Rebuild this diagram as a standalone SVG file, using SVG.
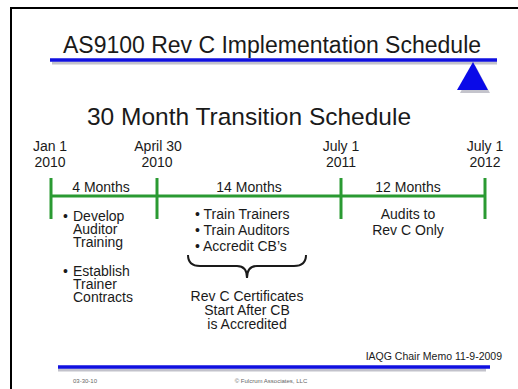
<svg xmlns="http://www.w3.org/2000/svg" width="518" height="389" viewBox="0 0 518 389">
<defs>
<style>
text{font-family:"Liberation Sans",Arial,sans-serif;fill:#1a1a1a}
.lbl{font-size:14px}
.mid{text-anchor:middle}
.tl{stroke:#2a9a32;stroke-width:3;fill:none}
.blue{stroke:#1010e0;stroke-width:3.5;fill:none}
.shadow{stroke:#9a9aa8;stroke-width:3;fill:none;opacity:0.6}
.small{font-size:6px;fill:#666}
</style>
</defs>
<rect x="0" y="0" width="518" height="389" fill="#fff"/>
<rect x="11" y="8" width="520" height="400" fill="none" stroke="#000" stroke-width="2"/>
<g id="header">
<text x="272" y="53" class="mid" font-size="23">AS9100 Rev C Implementation Schedule</text>
<line class="shadow" x1="52" y1="63" x2="497" y2="63"/>
<line class="blue" x1="50" y1="60" x2="497" y2="60"/>
<polygon points="475,65 490,93 460,93" fill="#8a8a9a" opacity="0.5"/>
<polygon points="473,62 488,90 457,90" fill="#0a0ae8"/>
<text x="249" y="125" class="mid" font-size="24.5">30 Month Transition Schedule</text>
</g>
<g id="connectors">
<line class="tl" x1="51" y1="196" x2="485" y2="196"/>
<line class="tl" x1="51" y1="178" x2="51" y2="219"/>
<line class="tl" x1="157" y1="178" x2="157" y2="219"/>
<line class="tl" x1="341" y1="178" x2="341" y2="219"/>
<line class="tl" x1="485" y1="178" x2="485" y2="219"/>
<path d="M188,255 Q188,266 200,266 L237,266 Q247,266 247,278 Q247,266 257,266 L294,266 Q306,266 306,255" fill="none" stroke="#1a1a1a" stroke-width="2"/>
</g>
<g id="date-jan2010">
<text class="lbl mid"><tspan x="50" y="151">Jan 1</tspan><tspan x="50" y="167">2010</tspan></text>
</g>
<g id="date-apr2010">
<text class="lbl mid"><tspan x="158" y="151">April 30</tspan><tspan x="157" y="167">2010</tspan></text>
</g>
<g id="date-jul2011">
<text class="lbl mid"><tspan x="341" y="151">July 1</tspan><tspan x="341" y="167">2011</tspan></text>
</g>
<g id="date-jul2012">
<text class="lbl mid"><tspan x="485" y="151">July 1</tspan><tspan x="485" y="167">2012</tspan></text>
</g>
<g id="phase1">
<text x="101" y="192" class="lbl mid">4 Months</text>
<text x="63" y="221" class="lbl">•</text>
<text class="lbl"><tspan x="73" y="221">Develop</tspan><tspan x="73" y="234">Auditor</tspan><tspan x="73" y="247">Training</tspan></text>
<text x="63" y="276" class="lbl">•</text>
<text class="lbl"><tspan x="73" y="276">Establish</tspan><tspan x="73" y="289">Trainer</tspan><tspan x="73" y="302">Contracts</tspan></text>
</g>
<g id="phase2">
<text x="249" y="192" class="lbl mid">14 Months</text>
<text class="lbl"><tspan x="195" y="219">• Train Trainers</tspan><tspan x="195" y="235">• Train Auditors</tspan><tspan x="195" y="251">• Accredit CB’s</tspan></text>
<text class="lbl mid"><tspan x="247" y="301">Rev C Certificates</tspan><tspan x="247" y="315">Start After CB</tspan><tspan x="247" y="329">is Accredited</tspan></text>
</g>
<g id="phase3">
<text x="408" y="192" class="lbl mid">12 Months</text>
<text class="lbl mid"><tspan x="408" y="219">Audits to</tspan><tspan x="408" y="235">Rev C Only</tspan></text>
</g>
<g id="footer">
<text x="502" y="360" font-size="10.5" text-anchor="end" fill="#333">IAQG Chair Memo 11-9-2009</text>
<line class="shadow" x1="58" y1="370" x2="486" y2="370"/>
<line class="blue" x1="58" y1="367" x2="490" y2="367"/>
<text x="73" y="383" class="small">03-30-10</text>
<text x="271" y="383" class="small mid">© Fulcrum Associates, LLC</text>
</g>
</svg>
